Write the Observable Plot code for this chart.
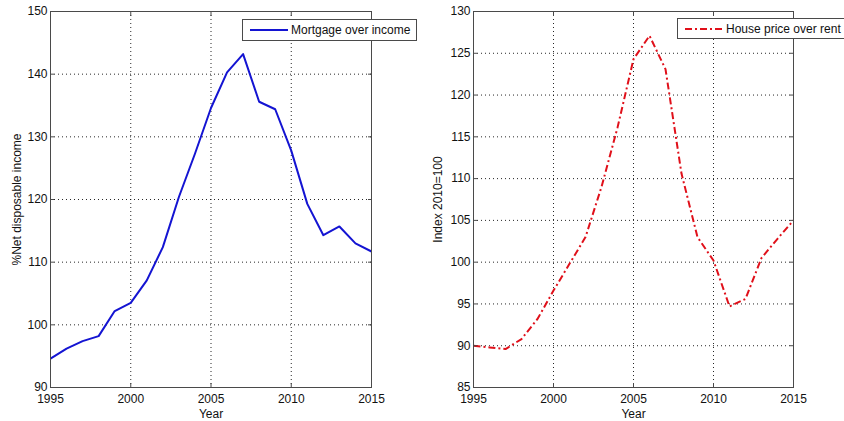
<!DOCTYPE html>
<html>
<head>
<meta charset="utf-8">
<script src="https://cdn.jsdelivr.net/npm/d3@7"></script>
<script src="https://cdn.jsdelivr.net/npm/@observablehq/plot@0.6"></script>
<style>
  body { margin: 0; background: #fff; }
  #fig { position: relative; width: 844px; height: 421px; overflow: hidden; background: #fff;
         font-family: "Liberation Sans", Arial, Helvetica, sans-serif; }
  .panel { position: absolute; top: 0; }
  .legend { position: absolute; box-sizing: border-box; background: #fff; border: 1px solid #4a4a4a;
            display: flex; align-items: center; font-size: 12px; color: #111; white-space: nowrap; }
  .legend svg { flex: none; margin: 0 3px 0 7px; }
</style>
</head>
<body>
<div id="fig"></div>
<script>
// Years shared by both series
const years = [1995, 1996, 1997, 1998, 1999, 2000, 2001, 2002, 2003, 2004, 2005,
               2006, 2007, 2008, 2009, 2010, 2011, 2012, 2013, 2014, 2015];

// Outstanding mortgage debt as % of net disposable income
const mortgageOverIncome = [94.6, 96.2, 97.4, 98.2, 102.2, 103.5, 107.1, 112.4, 120.4, 127.3, 134.6,
                            140.3, 143.2, 135.6, 134.4, 127.8, 119.3, 114.3, 115.7, 113.0, 111.7];

// House price to rent ratio, index 2010 = 100
const housePriceOverRent = [90.0, 89.8, 89.6, 90.8, 93.2, 96.6, 99.8, 103.0, 109.0, 116.1, 124.3,
                            127.1, 123.1, 110.6, 103.0, 100.2, 94.7, 95.6, 100.5, 102.8, 105.0];

const xTicks = [1995, 2000, 2005, 2010, 2015];
const leftYTicks = [90, 100, 110, 120, 130, 140, 150];
const rightYTicks = [85, 90, 95, 100, 105, 110, 115, 120, 125, 130];

const leftRows = years.map((year, i) => ({year, value: mortgageOverIncome[i]}));
const rightRows = years.map((year, i) => ({year, value: housePriceOverRent[i]}));

const axisColor = "#4a4a4a";

function panel({rows, yDomain, yTicks, yLabel, yLabelOffset, stroke, dash, margins}) {
  const gridOpts = {stroke: "#000", strokeOpacity: 0.85, strokeDasharray: "1,3"};
  return Plot.plot({
    width: 422,
    height: 421,
    marginLeft: margins[0],
    marginRight: margins[1],
    marginTop: 11,
    marginBottom: 34,
    style: {fontFamily: '"Liberation Sans", Arial, sans-serif', fontSize: "12px", color: "#111", background: "transparent"},
    x: {domain: [1995, 2015]},
    y: {domain: yDomain},
    marks: [
      Plot.gridX(xTicks.slice(1, -1), gridOpts),
      Plot.gridY(yTicks.slice(1, -1), gridOpts),
      Plot.line(rows, {x: "year", y: "value", stroke, strokeWidth: 2, strokeDasharray: dash,
                       strokeLinejoin: "round", strokeLinecap: "butt"}),
      Plot.frame({stroke: axisColor, strokeWidth: 1}),
      Plot.axisX(xTicks, {anchor: "bottom", tickSize: -4, tickPadding: 11, stroke: axisColor,
                          tickFormat: d3.format("d"), label: "Year", labelAnchor: "center",
                          labelArrow: "none", labelOffset: 30}),
      Plot.axisX(xTicks, {anchor: "top", tickSize: -4, stroke: axisColor, tickFormat: () => "", label: null}),
      Plot.axisY(yTicks, {anchor: "left", tickSize: -4, tickPadding: 7, stroke: axisColor,
                          label: yLabel, labelAnchor: "center", labelArrow: "none", labelOffset: yLabelOffset}),
      Plot.axisY(yTicks, {anchor: "right", tickSize: -4, stroke: axisColor, tickFormat: () => "", label: null})
    ]
  });
}

function legend({left, top, width, height, text, stroke, dash}) {
  const el = document.createElement("div");
  el.className = "legend";
  Object.assign(el.style, {left: left + "px", top: top + "px", width: width + "px", height: height + "px"});
  const ns = "http://www.w3.org/2000/svg";
  const svg = document.createElementNS(ns, "svg");
  svg.setAttribute("width", 38);
  svg.setAttribute("height", 8);
  const ln = document.createElementNS(ns, "line");
  ln.setAttribute("x1", 0); ln.setAttribute("x2", 38);
  ln.setAttribute("y1", 4); ln.setAttribute("y2", 4);
  ln.setAttribute("stroke", stroke);
  ln.setAttribute("stroke-width", 2);
  if (dash) ln.setAttribute("stroke-dasharray", dash);
  svg.appendChild(ln);
  el.appendChild(svg);
  const span = document.createElement("span");
  span.textContent = text;
  el.appendChild(span);
  return el;
}

const fig = document.getElementById("fig");

const left = panel({
  rows: leftRows, yDomain: [90, 150], yTicks: leftYTicks, yLabel: "%Net disposable income",
  yLabelOffset: 38, stroke: "#1414d2", dash: null, margins: [50, 51]
});
left.classList.add("panel");
left.style.left = "0px";
fig.appendChild(left);

const right = panel({
  rows: rightRows, yDomain: [85, 130], yTicks: rightYTicks, yLabel: "Index 2010=100",
  yLabelOffset: 40, stroke: "#e0101a", dash: "7,3,2,3", margins: [51, 51]
});
right.classList.add("panel");
right.style.left = "422px";
fig.appendChild(right);

fig.appendChild(legend({left: 242, top: 19, width: 175, height: 22, text: "Mortgage over income",
                        stroke: "#1414d2", dash: null}));
fig.appendChild(legend({left: 677, top: 18, width: 180, height: 21, text: "House price over rent",
                        stroke: "#e0101a", dash: "7,3,2,3"}));
</script>
</body>
</html>
